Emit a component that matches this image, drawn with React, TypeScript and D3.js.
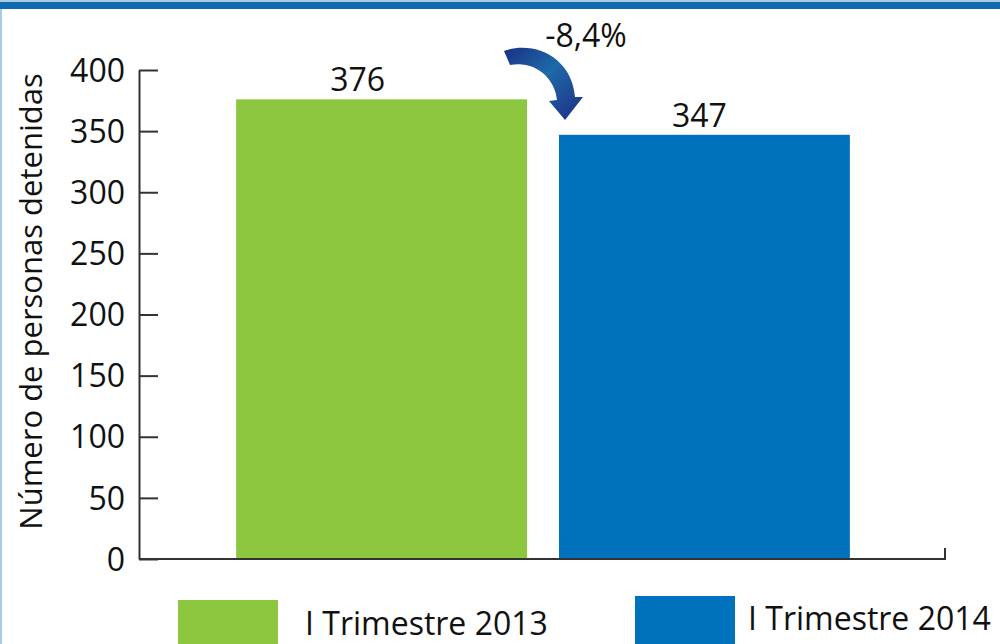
import React, { useEffect, useRef } from "react";
import * as d3 from "d3";

const categories = ["I Trimestre 2013", "I Trimestre 2014"];
const values = [376, 347];
const colors = ["#8dc63f", "#0071bc"];
const yTicks = [0, 50, 100, 150, 200, 250, 300, 350, 400];
const changeLabel = "-8,4%";
const yTitle = "Número de personas detenidas";

export default function App() {
  const ref = useRef<SVGSVGElement>(null);
  useEffect(() => {
    const svg = d3.select(ref.current);
    svg.selectAll("*").remove();
    const W = 1000, H = 644;
    const font = "'Open Sans', sans-serif";
    svg.append("rect").attr("width", W).attr("height", H).attr("fill", "#fff");
    // frame
    svg.append("rect").attr("x", 0).attr("y", 0).attr("width", W).attr("height", 9).attr("fill", "#0f6bab");
    svg.append("rect").attr("x", 0).attr("y", 0).attr("width", W).attr("height", 2).attr("fill", "#a9cbe6");
    svg.append("rect").attr("x", 0).attr("y", 9).attr("width", 2).attr("height", H).attr("fill", "#a9cbe6");

    const y = d3.scaleLinear().domain([0, 400]).range([559, 70]);
    const x = d3.scaleBand().domain(categories).range([220, 866]).paddingInner(0.099).paddingOuter(0.05);

    const ax = svg.append("g").attr("transform", "translate(139,0)")
      .call(d3.axisLeft(y).tickValues(yTicks).tickSize(-19).tickSizeOuter(0).tickPadding(14));
    ax.selectAll("path,line").attr("stroke", "#333").attr("stroke-width", 2);
    ax.selectAll("text").attr("font-family", font).attr("font-size", 32).attr("fill", "#111").attr("dy", "0.35em");

    // bars
    svg.selectAll("rect.bar").data(values).enter().append("rect")
      .attr("class", "bar")
      .attr("x", (_, i) => x(categories[i])!)
      .attr("width", x.bandwidth())
      .attr("y", d => y(d))
      .attr("height", d => y(0) - y(d))
      .attr("fill", (_, i) => colors[i]);

    // baseline
    svg.append("path").attr("d", `M139,${y(0)}H945V${y(0) - 11}`)
      .attr("fill", "none").attr("stroke", "#333").attr("stroke-width", 2);

    // value labels
    const labelShift = [-24, -5];
    svg.selectAll("text.val").data(values).enter().append("text")
      .attr("class", "val")
      .attr("x", (_, i) => x(categories[i])! + x.bandwidth() / 2 + labelShift[i])
      .attr("y", d => y(d) - 8)
      .attr("text-anchor", "middle")
      .attr("font-family", font).attr("font-size", 32).attr("fill", "#111")
      .text(d => String(d));

    // change label
    svg.append("text").attr("x", 586).attr("y", 47).attr("text-anchor", "middle")
      .attr("font-family", font).attr("font-size", 32).attr("fill", "#111").text(changeLabel);

    // arrow
    const defs = svg.append("defs");
    const g = defs.append("linearGradient").attr("id", "arrowGrad")
      .attr("x1", "0").attr("y1", "0").attr("x2", "1").attr("y2", "1");
    g.append("stop").attr("offset", "0").attr("stop-color", "#1b2f86");
    g.append("stop").attr("offset", "0.45").attr("stop-color", "#1e6aa8");
    g.append("stop").attr("offset", "1").attr("stop-color", "#1d2c86");
    svg.append("path")
      .attr("d", "M504,51 C535,40 572,58 575,97 L583,97 L565,120 L549,101 L557,100 C555,78 535,60 510,65 Z")
      .attr("fill", "url(#arrowGrad)");

    // y title
    svg.append("text")
      .attr("transform", `translate(42,${(75 + 528) / 2}) rotate(-90)`)
      .attr("text-anchor", "middle")
      .attr("font-family", font).attr("font-size", 31).attr("fill", "#111")
      .text(yTitle);

    // legend
    const leg = [
      { x: 178, y: 600, tx: 305, ty: 635 },
      { x: 635, y: 596, tx: 748, ty: 630 },
    ];
    leg.forEach((l, i) => {
      svg.append("rect").attr("x", l.x).attr("y", l.y).attr("width", 100).attr("height", H - l.y).attr("fill", colors[i]);
      svg.append("text").attr("x", l.tx).attr("y", l.ty)
        .attr("font-family", font).attr("font-size", 32).attr("fill", "#111")
        .text(categories[i]);
    });
  }, []);
  return <svg ref={ref} width={1000} height={644} style={{ display: "block", position: "absolute", left: 0, top: 0 }} />;
}
